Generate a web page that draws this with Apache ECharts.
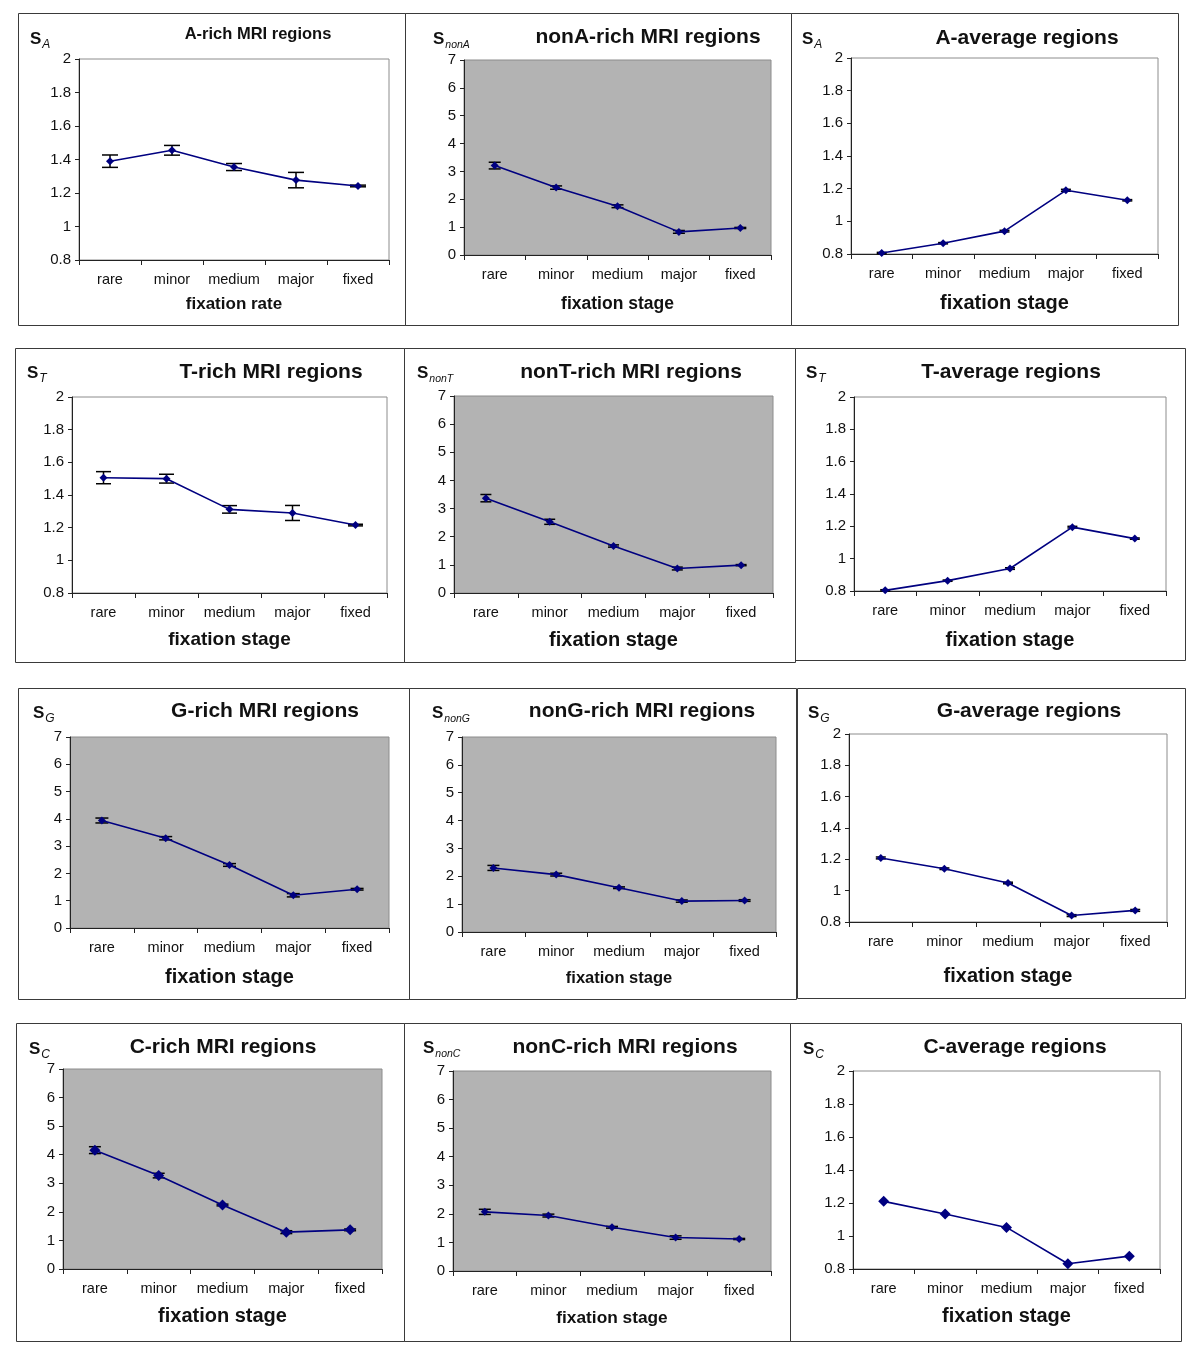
<!DOCTYPE html>
<html><head><meta charset="utf-8">
<script src="https://cdn.jsdelivr.net/npm/echarts@6/dist/echarts.min.js"></script>
<style>html,body{margin:0;padding:0;background:#fff}#c{width:1200px;height:1354px}</style>
</head><body><div id="c"></div>
<script>
// ---------- data ----------
const categories = ['rare', 'minor', 'medium', 'major', 'fixed'];
const smallScaleTicks = [0.8, 1, 1.2, 1.4, 1.6, 1.8, 2];
const largeScaleTicks = [0, 1, 2, 3, 4, 5, 6, 7];

const aRich = [1.39, 1.455, 1.355, 1.277, 1.242];
const aRichErr = [0.037, 0.029, 0.021, 0.046, 0.005];
const nonARich = [3.21, 2.42, 1.75, 0.83, 0.97];
const nonARichErr = [0.12, 0.06, 0.05, 0.05, 0.02];
const aAverage = [0.806, 0.866, 0.94, 1.19, 1.129];
const aAverageErr = [0.004, 0.004, 0.005, 0.006, 0.004];

const tRich = [1.506, 1.5, 1.312, 1.29, 1.216];
const tRichErr = [0.037, 0.027, 0.023, 0.046, 0.005];
const nonTRich = [3.37, 2.53, 1.67, 0.87, 0.99];
const nonTRichErr = [0.13, 0.09, 0.04, 0.05, 0.02];
const tAverage = [0.804, 0.864, 0.939, 1.195, 1.124];
const tAverageErr = [0.004, 0.004, 0.005, 0.005, 0.004];

const gRich = [3.94, 3.29, 2.31, 1.2, 1.42];
const gRichErr = [0.09, 0.06, 0.05, 0.06, 0.03];
const nonGRich = [2.3, 2.06, 1.59, 1.11, 1.13];
const nonGRichErr = [0.09, 0.05, 0.03, 0.04, 0.03];
const gAverage = [1.209, 1.14, 1.049, 0.841, 0.874];
const gAverageErr = [0.006, 0.005, 0.005, 0.006, 0.006];

const cRich = [4.16, 3.27, 2.24, 1.29, 1.37];
const cRichErr = [0.12, 0.08, 0.03, 0.05, 0.03];
const nonCRich = [2.07, 1.94, 1.53, 1.17, 1.12];
const nonCRichErr = [0.09, 0.05, 0.03, 0.06, 0.02];
const cAverage = [1.21, 1.133, 1.052, 0.832, 0.878];
const cAverageErr = [0, 0, 0, 0, 0];

const panelTitles = ['A-rich MRI regions', 'nonA-rich MRI regions', 'A-average regions',
  'T-rich MRI regions', 'nonT-rich MRI regions', 'T-average regions',
  'G-rich MRI regions', 'nonG-rich MRI regions', 'G-average regions',
  'C-rich MRI regions', 'nonC-rich MRI regions', 'C-average regions'];
const panelSubscripts = ['A', 'nonA', 'A', 'T', 'nonT', 'T', 'G', 'nonG', 'G', 'C', 'nonC', 'C'];
const panelXNames = ['fixation rate', 'fixation stage', 'fixation stage', 'fixation stage', 'fixation stage', 'fixation stage',
  'fixation stage', 'fixation stage', 'fixation stage', 'fixation stage', 'fixation stage', 'fixation stage'];
const panelValues = [aRich, nonARich, aAverage, tRich, nonTRich, tAverage, gRich, nonGRich, gAverage, cRich, nonCRich, cAverage];
const panelErrors = [aRichErr, nonARichErr, aAverageErr, tRichErr, nonTRichErr, tAverageErr, gRichErr, nonGRichErr, gAverageErr, cRichErr, nonCRichErr, cAverageErr];
const panelTicks = [smallScaleTicks, largeScaleTicks, smallScaleTicks, smallScaleTicks, largeScaleTicks, smallScaleTicks,
  largeScaleTicks, largeScaleTicks, smallScaleTicks, largeScaleTicks, largeScaleTicks, smallScaleTicks];

// ---------- layout (positions / styles) ----------
// plot area [left, top, right, bottom]
const plotBoxes = [
  [79, 59, 389, 260], [464, 60, 771, 255], [851, 58, 1158, 254],
  [72, 397, 387, 593], [454, 396, 773, 593], [854, 397, 1166, 591],
  [70, 737, 389, 928], [462, 737, 776, 932], [849, 734, 1167, 922],
  [63, 1069, 382, 1269], [453, 1071, 771, 1271], [853, 1071, 1160, 1269]
];
const titleSpots = [[258, 34, 16.5], [648, 37, 21], [1027, 38, 21], [271, 372, 21], [631, 372, 21], [1011, 372, 21],
  [265, 711, 21], [642, 711, 21], [1029, 711, 21], [223, 1047, 21], [625, 1047, 21], [1015, 1047, 21]];
const symSpots = [[30, 38], [433, 38], [802, 38], [27, 372], [417, 372], [806, 372],
  [33, 712], [432, 712], [808, 712], [29, 1048], [423, 1047], [803, 1048]];
const nameSpots = [[304, 17], [304, 17.5], [303, 20], [640, 19], [640, 20], [640, 20],
  [977, 20], [978, 16.5], [976, 20], [1316, 20], [1318, 17.3], [1316, 20]];
const frames = [[18, 13, 387, 312], [405, 13, 386, 312], [791, 13, 387, 312],
  [15, 348, 389, 314], [404, 348, 391, 314], [795, 348, 390, 312],
  [18, 688, 391, 311], [409, 688, 387, 311], [797, 688, 388, 310],
  [16, 1023, 388, 318], [404, 1023, 386, 318], [790, 1023, 391, 318]];
const capHalf = [8, 6, 5, 7.5, 5.5, 5, 6.5, 6, 5, 6, 6, 5];
const markerSizes = [8, 8, 8, 8, 8, 8, 8, 8, 8, 11, 8, 11];

const FONT = 'Liberation Sans, Arial, Helvetica, sans-serif';
const NAVY = '#000080';

function errRenderer(halfW) {
  return function (params, api) {
    const x = api.value(0), lo = api.value(1), hi = api.value(2);
    if (hi - lo <= 0) return null;
    const pLo = api.coord([x, lo]), pHi = api.coord([x, hi]);
    const st = { stroke: '#000', lineWidth: 1.5 };
    return {
      type: 'group', children: [
        { type: 'line', shape: { x1: pLo[0], y1: pLo[1], x2: pHi[0], y2: pHi[1] }, style: st },
        { type: 'line', shape: { x1: pLo[0] - halfW, y1: pLo[1], x2: pLo[0] + halfW, y2: pLo[1] }, style: st },
        { type: 'line', shape: { x1: pHi[0] - halfW, y1: pHi[1], x2: pHi[0] + halfW, y2: pHi[1] }, style: st }
      ]
    };
  };
}

const grids = [], xAxes = [], yAxes = [], series = [], graphics = [];

frames.forEach(f => {
  graphics.push({ type: 'rect', shape: { x: f[0] + 0.5, y: f[1] + 0.5, width: f[2], height: f[3] },
    style: { fill: 'none', stroke: '#3a3a3a', lineWidth: 1 }, z: 0 });
});

panelTitles.forEach((title, i) => {
  const b = plotBoxes[i];
  const ticks = panelTicks[i];
  const gray = ticks === largeScaleTicks;
  grids.push({ left: b[0], top: b[1], width: b[2] - b[0], height: b[3] - b[1], show: true,
    backgroundColor: gray ? '#b3b3b3' : '#ffffff', borderColor: '#8c8c8c', borderWidth: 1 });
  xAxes.push({ type: 'category', gridIndex: i, data: categories, boundaryGap: true,
    axisLine: { lineStyle: { color: '#222', width: 1 } },
    axisTick: { show: true, length: 5, alignWithLabel: false, lineStyle: { color: '#222' } },
    axisLabel: { fontFamily: FONT, fontSize: 14.5, color: '#111', margin: 12, interval: 0 },
    splitLine: { show: false },
    name: panelXNames[i], nameLocation: 'middle',
    nameGap: nameSpots[i][0] - b[3] - nameSpots[i][1] / 2,
    nameTextStyle: { fontFamily: FONT, fontSize: nameSpots[i][1], fontWeight: 'bold', color: '#111' } });
  yAxes.push({ type: 'value', gridIndex: i, min: ticks[0], max: ticks[ticks.length - 1],
    interval: ticks[1] - ticks[0],
    axisLine: { show: true, lineStyle: { color: '#222', width: 1 } },
    axisTick: { show: true, length: 4, lineStyle: { color: '#222' } },
    axisLabel: { fontFamily: FONT, fontSize: 15, color: '#111', margin: 8,
      formatter: v => String(Math.round(v * 10) / 10) },
    splitLine: { show: false } });
  const vals = panelValues[i], errs = panelErrors[i];
  series.push({ type: 'custom', xAxisIndex: i, yAxisIndex: i, renderItem: errRenderer(capHalf[i]),
    data: vals.map((v, k) => [k, v - errs[k], v + errs[k]]), z: 3, silent: true });
  series.push({ type: 'line', xAxisIndex: i, yAxisIndex: i, data: vals, symbol: 'diamond',
    symbolSize: markerSizes[i], lineStyle: { color: NAVY, width: 1.6 },
    itemStyle: { color: NAVY }, z: 4, animation: false, silent: true });

  const t = titleSpots[i];
  graphics.push({ type: 'text', x: t[0], y: t[1], z: 10,
    style: { text: title, fontFamily: FONT, fontSize: t[2], fontWeight: 'bold', fill: '#111',
      align: 'center', verticalAlign: 'middle' } });
  const s = symSpots[i];
  graphics.push({ type: 'text', x: s[0], y: s[1], z: 10,
    style: { text: '{s|S}{sub|' + panelSubscripts[i] + '}', align: 'left', verticalAlign: 'middle',
      rich: {
        s: { fontFamily: FONT, fontSize: 17, fontWeight: 'bold', fill: '#111', lineHeight: 20, verticalAlign: 'bottom' },
        sub: { fontFamily: FONT, fontSize: panelSubscripts[i].length > 1 ? 10.5 : 12, fontStyle: 'italic', fill: '#111',
          lineHeight: 20, verticalAlign: 'bottom', padding: [0, 0, -3, 1] }
      } } });
});

const chart = echarts.init(document.getElementById('c'), null, { renderer: 'canvas' });
chart.setOption({
  animation: false,
  backgroundColor: '#ffffff',
  grid: grids, xAxis: xAxes, yAxis: yAxes, series: series, graphic: graphics
});
</script></body></html>
